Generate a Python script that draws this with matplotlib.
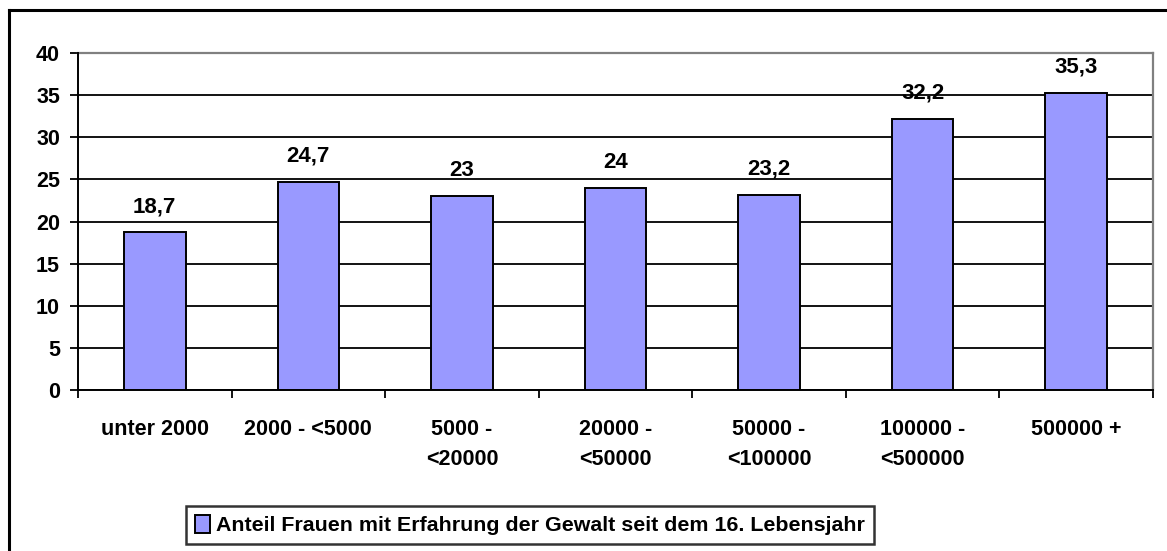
import matplotlib
matplotlib.use("Agg")
import matplotlib.pyplot as plt
from matplotlib.lines import Line2D

categories = ["unter 2000", "2000 - <5000", "5000 -\n<20000", "20000 -\n<50000",
              "50000 -\n<100000", "100000 -\n<500000", "500000 +"]
values = [18.7, 24.7, 23, 24, 23.2, 32.2, 35.3]
value_labels = ["18,7", "24,7", "23", "24", "23,2", "32,2", "35,3"]
legend_label = "Anteil Frauen mit Erfahrung der Gewalt seit dem 16. Lebensjahr"
yticks = [0, 5, 10, 15, 20, 25, 30, 35, 40]

plt.rcParams['font.family'] = ['Liberation Sans', 'DejaVu Sans']
plt.rcParams['font.weight'] = 'bold'

W, H = 1167, 551
fig = plt.figure(figsize=(W / 100, H / 100), dpi=100)
fig.patch.set_facecolor('white')

# outer frame (left and top edges visible)
fig.add_artist(Line2D([9 / W, 9 / W], [0, 1 - 9.5 / H], transform=fig.transFigure,
                      color='black', lw=2.2))
fig.add_artist(Line2D([9 / W, 1.0], [1 - 9.5 / H, 1 - 9.5 / H], transform=fig.transFigure,
                      color='black', lw=2.2))

FS = 15.5
ax = fig.add_axes([78 / W, 1 - 390 / H, (1153 - 78) / W, (390 - 53) / H])
x = list(range(len(categories)))
bars = ax.bar(x, values, width=0.4, color='#9999ff', edgecolor='black', linewidth=1.4,
              zorder=3, label=legend_label)
ax.set_xlim(-0.5, len(categories) - 0.5)
ax.set_ylim(0, 40)
ax.set_yticks(yticks)
ax.set_yticklabels([str(t) for t in yticks], fontsize=FS, fontweight='bold')
ax.yaxis.grid(True, color='black', lw=1.3, zorder=0)
ax.set_xticks([i - 0.5 for i in range(len(categories) + 1)])
ax.set_xticklabels([])
ax.set_xticks(x, minor=True)
ax.set_xticklabels(categories, minor=True, fontsize=FS, fontweight='bold', linespacing=1.55,
                   va='top')
ax.tick_params(axis='x', which='minor', length=0, pad=21)
ax.tick_params(axis='x', which='major', length=6, direction='out', width=1.3)
ax.tick_params(axis='y', length=6, direction='out', width=1.3, pad=7)
for s in ['top', 'right']:
    ax.spines[s].set_color('#808080')
    ax.spines[s].set_linewidth(1.6)
for s in ['left', 'bottom']:
    ax.spines[s].set_color('black')
    ax.spines[s].set_linewidth(1.4)
    ax.spines[s].set_zorder(4)

for xi, v, lab in zip(x, values, value_labels):
    ax.annotate(lab, (xi, v), xytext=(0, 14.5), textcoords='offset points',
                ha='center', va='baseline', fontsize=16, fontweight='bold')

leg = fig.legend(handles=[bars], labels=[legend_label], loc='center',
                 bbox_to_anchor=(530 / W, 1 - 525 / H), frameon=True, fancybox=False,
                 edgecolor='black', handlelength=0.7, handleheight=0.9,
                 handletextpad=0.3, borderpad=0.4, prop={'weight': 'bold', 'size': 15.4})
leg.get_frame().set_linewidth(1.8)

fig.savefig("out.png", dpi=100, facecolor='white')
